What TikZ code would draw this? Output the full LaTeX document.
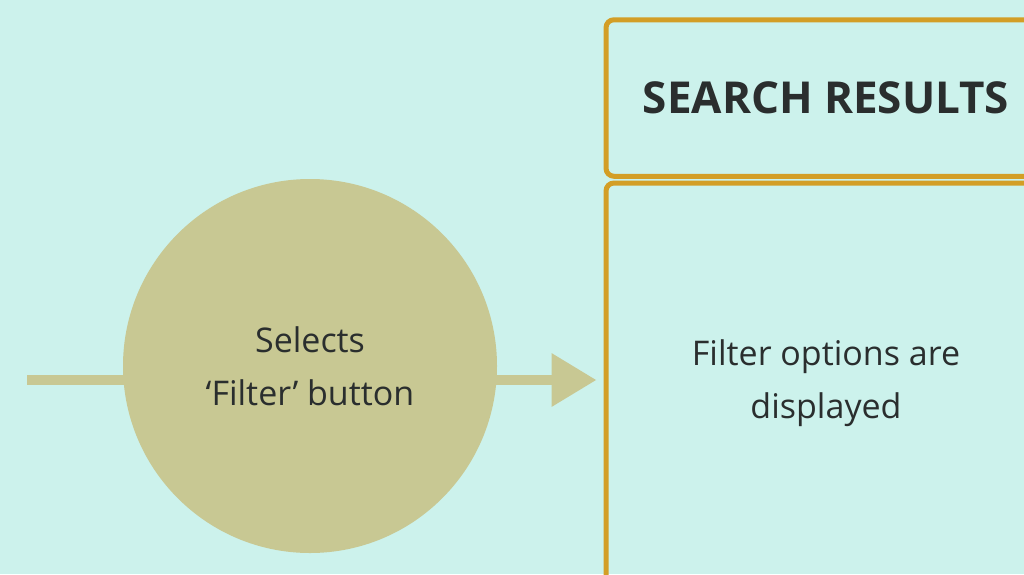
\documentclass[tikz,border=0pt]{standalone}
\usepackage{fontspec}
\setmainfont{Open Sans}
\usetikzlibrary{arrows.meta}

\definecolor{bgmint}{HTML}{CCF2EC}
\definecolor{olive}{HTML}{C8C893}
\definecolor{gold}{HTML}{D39E26}
\definecolor{ink}{HTML}{2A2E2E}

\tikzset{
  bubble/.style={circle, fill=olive, minimum size=374pt, inner sep=0pt,
    align=center, text=ink, font=\fontsize{34}{53}\selectfont},
  stagebox/.style={draw=gold, line width=5pt, rounded corners=8pt,
    minimum width=440pt, inner sep=0pt, align=center, text=ink},
  flow/.style={draw=olive, line width=10pt}
}

\begin{document}
\begin{tikzpicture}[x=1pt, y=-1pt]

% Background and canvas size
\fill[bgmint] (0,0) rectangle (1024,574);
\useasboundingbox (0,0) rectangle (1024,574);
\clip (0,0) rectangle (1024,574);

% Step bubble
\node[bubble] (select) at (310,366) {Selects\\‘Filter’ button};

% Header box
\node[stagebox, minimum height=156.5pt, font=\bfseries\fontsize{44}{52}\selectfont]
  (header) at (826,98) {SEARCH RESULTS};

% Panel box (runs off the bottom)
\node[stagebox, minimum height=400pt, font=\fontsize{34}{53}\selectfont]
  (panel) at (826,383) {Filter options are\\displayed};

% Incoming line
\coordinate (start) at (27,380);
\draw[flow] (start) -- ([xshift=2pt]start -| select.west);

% Arrow into the panel
\draw[flow, -{Triangle[length=45pt, width=51pt]}, shorten >=7pt]
  ([xshift=-2pt]select.east |- start) -- (start -| panel.west);

\end{tikzpicture}
\end{document}
